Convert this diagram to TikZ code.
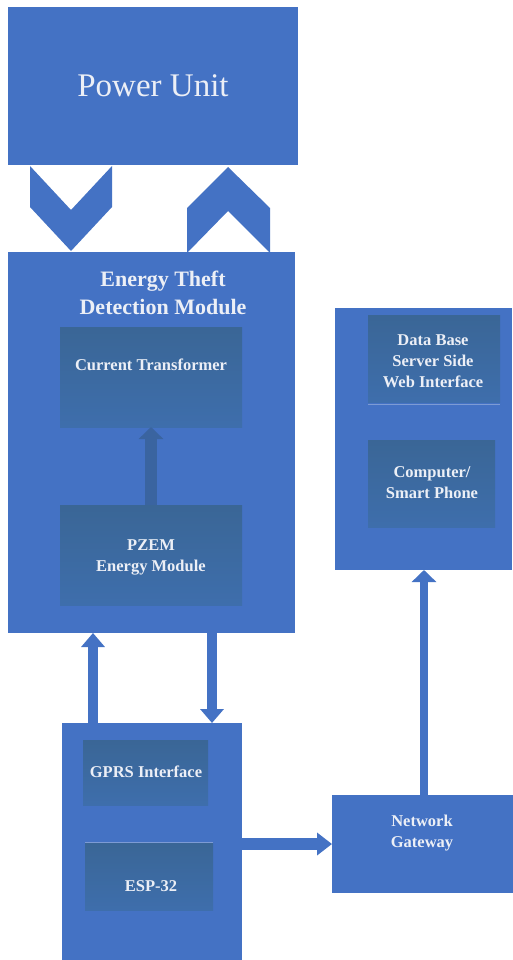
\documentclass[tikz,border=0pt]{standalone}
\usepackage{fontspec}
\setmainfont{Liberation Serif}
\usetikzlibrary{arrows.meta}
\definecolor{mainblue}{RGB}{68,114,196}
\definecolor{innertop}{RGB}{58,102,150}
\definecolor{innerbot}{RGB}{62,110,172}
\definecolor{txt}{RGB}{236,239,246}
\definecolor{sepline}{RGB}{125,155,212}
\definecolor{darkarrow}{RGB}{58,100,160}
\tikzset{
  mainbox/.style={fill=mainblue, draw=none, inner sep=0pt, outer sep=0pt, anchor=north west},
  innerbox/.style={top color=innertop, bottom color=innerbot, draw=none, inner sep=0pt, outer sep=0pt, anchor=north west},
  lbl/.style={text=txt, font=\bfseries\fontsize{16.5}{21}\selectfont, align=center, inner sep=0pt},
  blockarrow/.style={draw=mainblue, line width=10pt, -{Triangle[width=23pt,length=14pt]}},
}
\begin{document}
\begin{tikzpicture}[x=1pt,y=-1pt]
\useasboundingbox (0,0) rectangle (513,960);
\fill[white] (0,0) rectangle (513,960);

% Power unit
\node[mainbox, minimum width=290pt, minimum height=158pt] (power) at (8,7) {};
\node[text=txt, font=\fontsize{33}{38}\selectfont, inner sep=0pt] (powertxt) at (153,86) {Power Unit};

% chevrons
\fill[mainblue] (30,166) -- (71,210) -- (112,166) -- (112,207) -- (71,251) -- (30,207) -- cycle;
\fill[mainblue] (187,208) -- (228,167) -- (270,208) -- (270,253) -- (228,211) -- (187,253) -- cycle;

% Energy theft detection module
\node[mainbox, minimum width=287pt, minimum height=381pt] (etdm) at (8,252) {};
\node[text=txt, font=\bfseries\fontsize{22}{28}\selectfont, align=center, inner sep=0pt] (etdmtxt) at (163,293) {Energy Theft\\Detection Module};
\node[innerbox, minimum width=182pt, minimum height=100pt] (ct) at (60,327) {};
\node[lbl] (cttxt) at (151,365) {Current Transformer};
\node[innerbox, minimum width=182pt, minimum height=100pt] (pzem) at (60,505) {};
\node[lbl] (pzemtxt) at (151,557) {PZEM\\Energy Module};
\draw[draw=darkarrow, line width=12pt, -{Triangle[width=24pt,length=12pt]}] (pzem.north -| 151,0) -- (ct.south -| 151,0);

% ESP box
\node[mainbox, minimum width=180pt, minimum height=237pt] (esp) at (62,723) {};
\node[innerbox, minimum width=125pt, minimum height=65pt] (gprs) at (83,740) {};
\node[lbl] (gprstxt) at (146,772) {GPRS Interface};
\node[innerbox, minimum width=128pt, minimum height=67pt] (esp32) at (85,843) {};
\node[lbl] (esp32txt) at (151,886) {ESP-32};
\draw[sepline, line width=0.8pt] (85,842) -- (213,842);

% arrows between ETDM and ESP box
\coordinate (upbot) at (93,723);
\coordinate (uptop) at (93,633);
\coordinate (dntop) at (212,633);
\coordinate (dnbot) at (212,723);
\draw[blockarrow] (upbot) -- (uptop);
\draw[blockarrow] (dntop) -- (dnbot);

% Network gateway
\node[mainbox, minimum width=181pt, minimum height=98pt] (ng) at (332,795) {};
\node[lbl] (ngtxt) at (422,833) {Network\\Gateway};
\draw[draw=mainblue, line width=12pt, -{Triangle[width=22pt,length=15pt]}] (esp.east |- 0,844) -- (ng.west |- 0,844);

% Right box
\node[mainbox, minimum width=177pt, minimum height=262pt] (srv) at (335,308) {};
\node[innerbox, minimum width=132pt, minimum height=87pt] (db) at (368,315) {};
\node[lbl] (dbtxt) at (433,361) {Data Base\\Server Side\\Web Interface};
\draw[sepline, line width=0.8pt] (368,404) -- (500,404);
\node[innerbox, minimum width=127pt, minimum height=87pt] (comp) at (368,440) {};
\node[lbl] (comptxt) at (432,483) {Computer/\\Smart Phone};
\draw[draw=mainblue, line width=8pt, -{Triangle[width=24pt,length=12pt]}] (ng.north -| 424,0) -- (srv.south -| 424,0);
\end{tikzpicture}
\end{document}
